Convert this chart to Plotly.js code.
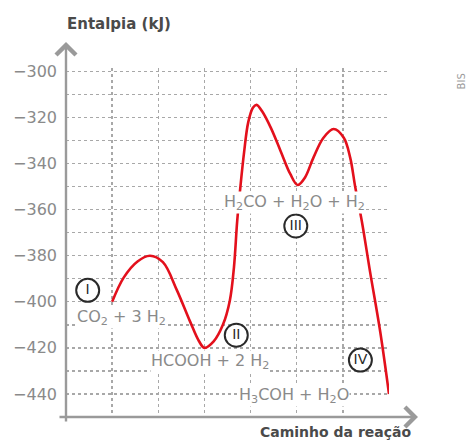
<!DOCTYPE html>
<html>
<head>
<meta charset="utf-8">
<script src="https://cdn.plot.ly/plotly-3.0.1.min.js"></script>
<style>html,body{margin:0;padding:0;background:#fff;}#chart{width:470px;height:441px;}</style>
</head>
<body>
<div id="chart"></div>
<script>
// Reaction path (x) and enthalpy (kJ)
const pathX = [1.00,1.25,1.55,1.82,2.10,2.40,2.69,2.88,3.00,3.20,3.40,3.55,3.64,3.71,3.78,3.86,3.95,4.05,4.13,4.25,4.44,4.65,4.86,5.02,5.18,5.36,5.58,5.80,6.02,6.16,6.27,6.41,6.59,6.81,7.00];
const enthalpy = [-400,-389.5,-382.5,-380,-382.8,-394.8,-408.6,-417,-420,-417.2,-410.0,-399.5,-385,-365,-350,-335,-322,-315.8,-314.5,-317.3,-324.5,-334.5,-344.5,-349.3,-346.0,-337.5,-328.8,-325.0,-328.8,-337.5,-350.4,-364.9,-387.0,-413.0,-440];
const stageLabels = ['I','II','III','IV'];
const speciesLabels = ['CO<sub>2</sub> + 3 H<sub>2</sub>','HCOOH + 2 H<sub>2</sub>','H<sub>2</sub>CO + H<sub>2</sub>O + H<sub>2</sub>','H<sub>3</sub>COH + H<sub>2</sub>O'];
const yTickVals = [-300,-320,-340,-360,-380,-400,-420,-440];
const xGridVals = [1,2,3,4,5,6,7];
const yTitle = 'Entalpia (kJ)';
const xTitle = 'Caminho da reação';

const FONT = 'DejaVu Sans, sans-serif';
const GRID = '#a8a8a8';
const AXIS = '#9a9a9a';
const LABEL = '#8a8a8a';
const PH = 349; // plot height in px
const py = p => (417 - p) / PH; // pixel row -> paper y

const curve = {
  x: pathX, y: enthalpy, type: 'scatter', mode: 'lines',
  line: {color: '#e3101c', width: 2.6, shape: 'spline', smoothing: 1},
  hoverinfo: 'skip'
};
const stages = {
  x: [0.47, 3.69, 4.98, 6.38], y: [-395, -414.5, -367.1, -425.3],
  type: 'scatter', mode: 'markers+text', text: stageLabels, textposition: 'middle center',
  marker: {size: 23, color: '#ffffff', line: {color: '#2a2a2a', width: 2}},
  textfont: {family: FONT, size: 14, color: '#2a2a2a'},
  cliponaxis: false, hoverinfo: 'skip'
};

const speciesPos = [[1.21,-406.8],[3.13,-426],[4.95,-356.8],[4.95,-440.5]];
const annotations = speciesLabels.map((t, i) => ({
  x: speciesPos[i][0], y: speciesPos[i][1], xref: 'x', yref: 'y',
  text: t, showarrow: false, bgcolor: '#ffffff', borderpad: 0,
  font: {family: FONT, size: 16, color: LABEL}
}));
// axis arrows
annotations.push({x: 0, y: py(42), xref: 'paper', yref: 'paper', text: '', showarrow: true,
  ax: 0, ay: 381, axref: 'pixel', ayref: 'pixel', arrowhead: 4, arrowsize: 1.6, arrowwidth: 2.4, arrowcolor: AXIS, standoff: 0});
annotations.push({x: (418 - 66) / 323, y: 0, xref: 'paper', yref: 'paper', text: '', showarrow: true,
  ax: -360, ay: 0, axref: 'pixel', ayref: 'pixel', arrowhead: 4, arrowsize: 1.6, arrowwidth: 2.4, arrowcolor: AXIS, standoff: 0});
annotations.push({x: -0.003, y: py(24), xref: 'paper', yref: 'paper', xanchor: 'left', yanchor: 'middle',
  text: yTitle, showarrow: false, font: {family: FONT, size: 15, weight: 'bold', color: '#4a4a4a'}});
annotations.push({x: (258 - 66) / 323, y: py(432), xref: 'paper', yref: 'paper', xanchor: 'left', yanchor: 'middle',
  text: xTitle, showarrow: false, font: {family: FONT, size: 14, weight: 'bold', color: '#4a4a4a'}});
annotations.push({x: (461.7 - 66) / 323, y: py(81.7), xref: 'paper', yref: 'paper', xanchor: 'center', yanchor: 'middle',
  text: 'BIS', textangle: -90, showarrow: false, font: {family: FONT, size: 10, color: '#9a9a9a'}});

const layout = {
  width: 470, height: 441,
  margin: {l: 66, r: 81, t: 68, b: 24, pad: 0},
  paper_bgcolor: '#ffffff', plot_bgcolor: '#ffffff',
  showlegend: false,
  xaxis: {range: [0, 7], tickvals: xGridVals, showticklabels: false, ticks: '',
    showgrid: true, gridcolor: GRID, griddash: 'dot', gridwidth: 1.3, zeroline: false, showline: false, fixedrange: true},
  yaxis: {range: [-450, -298.5], tickvals: yTickVals, ticks: '', ticklabelstandoff: 8,
    tickfont: {family: FONT, size: 16, color: LABEL},
    showgrid: true, gridcolor: GRID, griddash: 'dot', gridwidth: 1.3, zeroline: false, showline: false,
    minor: {dtick: 10, tick0: -300, showgrid: true, gridcolor: GRID, griddash: 'dot', gridwidth: 1.3, ticks: ''},
    fixedrange: true},
  annotations: annotations
};

Plotly.newPlot('chart', [curve, stages], layout, {staticPlot: true, displayModeBar: false});
</script>
</body>
</html>
